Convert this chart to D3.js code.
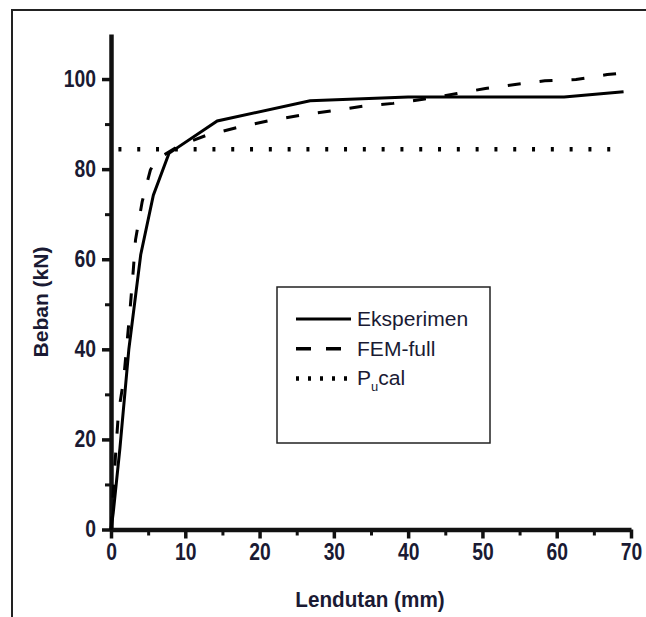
<!DOCTYPE html>
<html>
<head>
<meta charset="utf-8">
<script src="https://cdn.jsdelivr.net/npm/d3@7"></script>
<style>
  body { margin: 0; background: #fff; }
  svg text { font-family: 'Liberation Sans', Arial, sans-serif; fill: #1a1a33; }
  .axis path, .axis line { stroke: #111; }
</style>
</head>
<body>
<div id="chart"></div>
<script>
// data
var eksX = [0, 0.3, 1.2, 2.4, 4.0, 5.7, 7.8, 14.3, 26.8, 40, 61, 69];
var eksY = [0, 3.7, 18, 40, 61, 74.2, 83.5, 90.7, 95.2, 96, 96, 97.2];

var femX = [0, 0.6, 1.0, 1.7, 2.6, 3.0, 3.3, 4.2, 5.3, 6.0, 9.3, 13.0, 17.4, 21.7, 25.7, 30, 34, 38, 42, 46.6, 50.4, 54.4, 58.4, 62.6, 66.8, 68];
var femY = [0, 16.2, 25.9, 33.2, 49.5, 57.6, 64.3, 72.8, 79.8, 82, 85.3, 87.6, 89.4, 90.9, 92, 93, 94, 94.6, 95.5, 96.8, 97.9, 98.8, 99.6, 99.9, 101, 101.2];

var puCal = 84.4;
var puRange = [1, 69.2];

var xTicks = [0, 10, 20, 30, 40, 50, 60, 70];
var xMinor = [5, 15, 25, 35, 45, 55, 65];
var yTicks = [0, 20, 40, 60, 80, 100];
var yMinor = [10, 30, 50, 70, 90];

var legendLabels = ["Eksperimen", "FEM-full", "Pucal"];

var margin = {top: 34, right: 15, bottom: 87.5, left: 111},
    width = 646,
    height = 617;

var svg = d3.select("#chart").append("svg")
  .attr("width", width)
  .attr("height", height);

// outer frame (cut off at right and bottom)
svg.append("rect")
  .attr("x", 12).attr("y", 10)
  .attr("width", 700).attr("height", 700)
  .attr("fill", "none")
  .attr("stroke", "#222")
  .attr("stroke-width", 2);

var g = svg.append("g").attr("transform", "translate(" + margin.left + "," + margin.top + ")");
var w = width - margin.left - margin.right,
    h = height - margin.top - margin.bottom;

var x = d3.scaleLinear().domain([0, 70]).range([0, w]);
var y = d3.scaleLinear().domain([0, 110]).range([h, 0]);

// minor ticks
g.append("g").attr("class", "axis")
  .attr("transform", "translate(0," + h + ")")
  .call(d3.axisBottom(x).tickValues(xMinor).tickSize(6).tickFormat(""))
  .call(function(a){ a.select(".domain").remove(); a.selectAll("line").attr("stroke-width", 3); });
g.append("g").attr("class", "axis")
  .call(d3.axisLeft(y).tickValues(yMinor).tickSize(6).tickFormat(""))
  .call(function(a){ a.select(".domain").remove(); a.selectAll("line").attr("stroke-width", 3); });

// major ticks + labels
var xAxis = g.append("g").attr("class", "axis")
  .attr("transform", "translate(0," + h + ")")
  .call(d3.axisBottom(x).tickValues(xTicks).tickSizeInner(9).tickSizeOuter(0).tickPadding(5));
xAxis.select(".domain").attr("stroke-width", 4.5);
xAxis.selectAll("line").attr("stroke-width", 3.5);
xAxis.selectAll("text").style("font-size", "23px").style("font-weight", "bold")
  .attr("transform", "scale(0.84,1)");

var yAxis = g.append("g").attr("class", "axis")
  .call(d3.axisLeft(y).tickValues(yTicks).tickSizeInner(9).tickSizeOuter(0).tickPadding(6));
yAxis.select(".domain").attr("stroke-width", 4.5);
yAxis.selectAll("line").attr("stroke-width", 3.5);
yAxis.selectAll("text").style("font-size", "23px").style("font-weight", "bold")
  .attr("transform", "translate(-15,0) scale(0.84,1) translate(15,0)");

// axis titles
svg.append("text")
  .attr("x", 370).attr("y", 607)
  .attr("text-anchor", "middle")
  .attr("transform", "translate(370,0) scale(0.94,1) translate(-370,0)")
  .style("font-size", "22px").style("font-weight", "bold")
  .text("Lendutan (mm)");
svg.append("text")
  .attr("transform", "translate(48,302) rotate(-90)")
  .attr("text-anchor", "middle")
  .style("font-size", "21px").style("font-weight", "bold")
  .text("Beban (kN)");

var line = d3.line().x(function(d){ return x(d[0]); }).y(function(d){ return y(d[1]); });

var eks = eksX.map(function(v, i){ return [v, eksY[i]]; });
var fem = femX.map(function(v, i){ return [v, femY[i]]; });
var pu = puRange.map(function(v){ return [v, puCal]; });

g.append("path").datum(pu)
  .attr("d", line).attr("fill", "none")
  .attr("stroke", "#000").attr("stroke-width", 4.5)
  .attr("stroke-dasharray", "3,15.8");

g.append("path").datum(fem)
  .attr("d", line).attr("fill", "none")
  .attr("stroke", "#000").attr("stroke-width", 3)
  .attr("stroke-dasharray", "13,19");

g.append("path").datum(eks)
  .attr("d", line).attr("fill", "none")
  .attr("stroke", "#000").attr("stroke-width", 3);

// legend
var leg = svg.append("g");
leg.append("rect")
  .attr("x", 277).attr("y", 287).attr("width", 213).attr("height", 156)
  .attr("fill", "#fff").attr("stroke", "#222").attr("stroke-width", 1.5);

var dashes = [null, "15,15", "3,9"];
var widths = [3, 3.5, 4.5];
legendLabels.forEach(function(lab, i){
  var yy = 319 + i * 29.7;
  leg.append("line")
    .attr("x1", 296).attr("x2", 351).attr("y1", yy).attr("y2", yy)
    .attr("stroke", "#000").attr("stroke-width", widths[i])
    .attr("stroke-dasharray", dashes[i]);
  var t = leg.append("text")
    .attr("x", 357).attr("y", yy + 7)
    .attr("transform", "translate(357,0) scale(1.08,1) translate(-357,0)")
    .style("font-size", "19.5px");
  if (lab == "Pucal") {
    t.append("tspan").text("P");
    t.append("tspan").attr("dy", 6).style("font-size", "12px").text("u");
    t.append("tspan").attr("dy", -6).text("cal");
  } else {
    t.text(lab);
  }
});
</script>
</body>
</html>
